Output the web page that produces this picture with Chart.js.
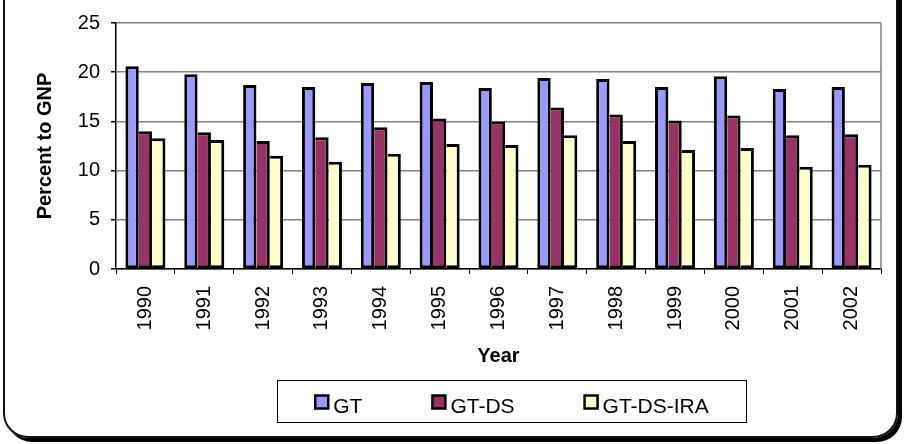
<!DOCTYPE html>
<html>
<head>
<meta charset="utf-8">
<script src="https://cdn.jsdelivr.net/npm/chart.js@4"></script>
<style>
  body { margin: 0; background: #fff; overflow: hidden; }
  #wrap { position: relative; width: 905px; height: 444px; }
  #frame {
    position: absolute; left: 3px; top: -30px; width: 895px; height: 468px;
    box-sizing: border-box; border: 2px solid #111; border-radius: 25px;
    box-shadow: 4px 4px 0 #000;
  }
  #chart { position: absolute; left: 0; top: 0; }
</style>
</head>
<body>
<div id="wrap">
  <div id="frame"></div>
  <canvas id="chart" width="905" height="444"></canvas>
</div>
<script>
const years = ['1990', '1991', '1992', '1993', '1994', '1995', '1996', '1997', '1998', '1999', '2000', '2001', '2002'];
const gt = [20.6, 19.8, 18.7, 18.5, 18.9, 19.0, 18.4, 19.4, 19.3, 18.5, 19.6, 18.3, 18.5];
const gtDs = [14.0, 13.9, 13.0, 13.4, 14.4, 15.3, 15.0, 16.4, 15.7, 15.1, 15.6, 13.6, 13.7];
const gtDsIra = [13.3, 13.1, 11.5, 10.9, 11.7, 12.7, 12.6, 13.6, 13.0, 12.1, 12.3, 10.4, 10.6];
const seriesNames = ['GT', 'GT-DS', 'GT-DS-IRA'];
const seriesColors = ['#9999FF', '#993366', '#FFFFCC'];
const yTicks = [0, 5, 10, 15, 20, 25];

const FONT = 'Arial, "Liberation Sans", sans-serif';

// plot area right border + Excel-style boxed legend under the chart
const boxedLegend = {
    id: 'boxedLegend',
    afterDraw(chart) {
        const ctx = chart.ctx;
        const area = chart.chartArea;
        ctx.save();
        ctx.strokeStyle = '#808080';
        ctx.lineWidth = 1.5;
        ctx.beginPath();
        ctx.moveTo(area.right, area.top);
        ctx.lineTo(area.right, area.bottom);
        ctx.stroke();

        const box = { left: 277.5, top: 380.5, width: 469, height: 42 };
        ctx.lineWidth = 1;
        ctx.strokeStyle = '#000';
        ctx.strokeRect(box.left, box.top, box.width, box.height);

        ctx.font = '21px ' + FONT;
        ctx.textBaseline = 'alphabetic';
        const sw = 13, gap = 5, between = 70;
        const items = chart.data.datasets.map(ds => ({
            text: ds.label, color: ds.backgroundColor,
            w: sw + gap + ctx.measureText(ds.label).width
        }));
        const total = items.reduce((s, it) => s + it.w, 0) + between * (items.length - 1);
        let x = box.left + (box.width - total) / 2;
        items.forEach(it => {
            ctx.fillStyle = it.color;
            ctx.fillRect(x, 395.5, sw, sw);
            ctx.lineWidth = 2.5;
            ctx.strokeStyle = '#000';
            ctx.strokeRect(x, 395.5, sw, sw);
            ctx.fillStyle = '#000';
            ctx.fillText(it.text, x + sw + gap, 413);
            x += it.w + between;
        });
        ctx.restore();
    }
};

new Chart(document.getElementById('chart'), {
    type: 'bar',
    data: {
        labels: years,
        datasets: [gt, gtDs, gtDsIra].map((values, i) => ({
            label: seriesNames[i],
            data: values,
            backgroundColor: seriesColors[i],
            borderColor: '#000',
            borderWidth: 3,
            // neighbouring bars share one outline, as in the original
            borderSkipped: i === 0 ? false : 'left',
            categoryPercentage: 0.68,
            barPercentage: 1.0
        }))
    },
    options: {
        responsive: false,
        animation: false,
        layout: { padding: { top: 13, right: 24, bottom: 70, left: 0 } },
        plugins: {
            legend: { display: false },
            tooltip: { enabled: false }
        },
        scales: {
            x: {
                grid: { display: true, drawOnChartArea: false, drawTicks: true, tickLength: 5, tickColor: '#000', offset: true },
                border: { display: true, color: '#000', width: 1.5 },
                ticks: { color: '#000', font: { family: FONT, size: 20 }, maxRotation: 90, minRotation: 90, padding: 12, autoSkip: false },
                title: { display: true, text: 'Year', color: '#000', font: { family: FONT, size: 20, weight: 'bold' }, padding: { top: 4, bottom: 6 } },
                afterFit(scale) { scale.height = 105; }
            },
            y: {
                min: 0,
                max: 25,
                afterBuildTicks(scale) { scale.ticks = yTicks.map(v => ({ value: v })); },
                grid: { color: '#808080', lineWidth: 1.5, tickLength: 5, tickColor: '#000' },
                border: { display: true, color: '#000', width: 1.5 },
                ticks: { color: '#000', font: { family: FONT, size: 20 }, padding: 11 },
                title: { display: true, text: 'Percent to GNP', color: '#000', font: { family: FONT, size: 20, weight: 'bold' }, padding: { top: 33, bottom: 4 } },
                afterFit(scale) { scale.width = 116; }
            }
        }
    },
    plugins: [boxedLegend]
});
</script>
</body>
</html>
